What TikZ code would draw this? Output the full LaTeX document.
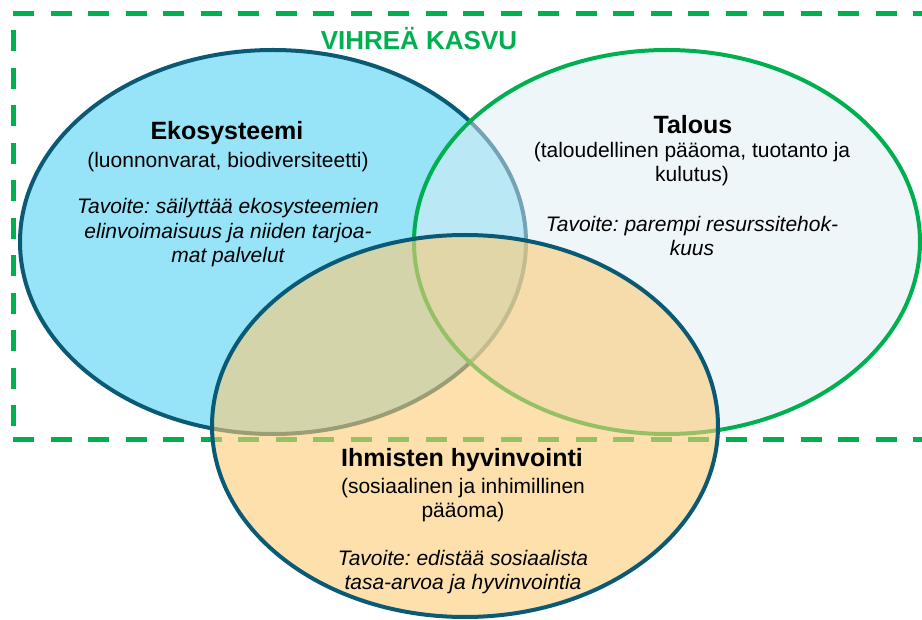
\documentclass[tikz,border=0pt]{standalone}
\usepackage{fontspec}
\setmainfont{Liberation Sans}
\frenchspacing
\usetikzlibrary{shapes.geometric,positioning}
\definecolor{ecofill}{RGB}{151,227,247}
\definecolor{darkteal}{RGB}{10,90,118}
\definecolor{kasvugreen}{RGB}{0,176,80}
\definecolor{econfill}{RGB}{221,237,245}
\definecolor{wellfill}{RGB}{251,203,117}
\tikzset{
    frame/.style={
    draw=kasvugreen,line width=5pt,dash pattern=on 21pt off 16.5pt
    },
    bubble/.style={
    ellipse,inner sep=0pt,line width=4pt,minimum width=506pt,minimum height=384pt
    },
    ecosystem/.style={
    bubble,draw=darkteal,fill=ecofill
    },
    economy/.style={
    bubble,draw=kasvugreen,fill=econfill,fill opacity=0.5
    },
    wellbeing/.style={
    bubble,draw=darkteal,fill=wellfill,fill opacity=0.6,minimum height=382pt
    },
    heading/.style={
    font=\fontsize{25}{28}\selectfont\bfseries
    },
    subtitle/.style={
    align=center,font=\fontsize{21}{24}\selectfont
    },
    goal/.style={
    align=center,font=\fontsize{21}{24.5}\selectfont\itshape
    },
    titletext/.style={
    text=kasvugreen,font=\fontsize{26}{30}\selectfont\bfseries
    },
}
\begin{document}
\begin{tikzpicture}[x=1pt, y=-1pt]
   \useasboundingbox (0,0) rectangle (922,620);
   % green growth frame, open on the right
   \coordinate (frameNW) at (13,14);
   \coordinate (frameNE) at (922,14);
   \coordinate (frameSW) at (13,440);
   \coordinate (frameSE) at (922,440);
   \draw[frame] (frameNW) -- (frameNE);
   \draw[frame] (frameSW) -- (frameSE);
   \draw[frame,dash phase=21pt] (frameNW) -- (frameSW);

   \node[ecosystem] (eko) at (273,242) {};
   \node[economy] (talous) at (667,242) {};
   \node[wellbeing] (ihmiset) at (465,426) {};

   \node[titletext] (vihrea) at (419,39) {VIHREÄ KASVU};

   \node[heading] (ekohead) at (227,133) {Ekosysteemi};
   \node[subtitle] (ekosub) at (228,162) {(luonnonvarat, biodiversiteetti)};
   \node[goal] (ekogoal) at (228,233) {Tavoite: säilyttää ekosysteemien\\elinvoimaisuus ja niiden tarjoa-\\mat palvelut};

   \node[heading] (talhead) at (693,125) {Talous};
   \node[subtitle] (talsub) at (692,164) {(taloudellinen pääoma, tuotanto ja\\kulutus)};
   \node[goal] (talgoal) at (692,236) {Tavoite: parempi resurssitehok-\\kuus};

   \node[heading] (ihmhead) at (462,460) {Ihmisten hyvinvointi};
   \node[subtitle] (ihmsub) at (463,500) {(sosiaalinen ja inhimillinen\\pääoma)};
   \node[goal] (ihmgoal) at (463,572) {Tavoite: edistää sosiaalista\\tasa-arvoa ja hyvinvointia};
\end{tikzpicture}
\end{document}
